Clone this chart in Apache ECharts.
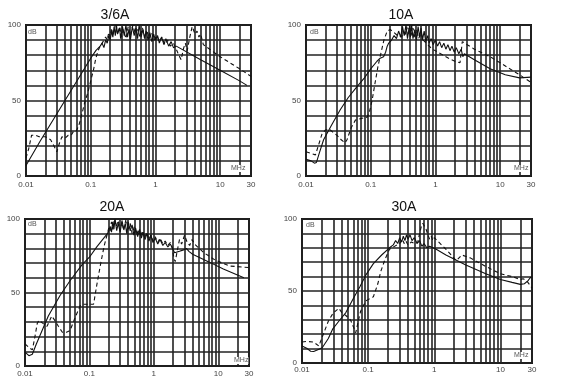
<!DOCTYPE html>
<html><head><meta charset="utf-8">
<script src="https://cdn.jsdelivr.net/npm/echarts@6/dist/echarts.min.js"></script>
<style>html,body{margin:0;padding:0;background:#fff}#c{width:580px;height:385px}</style>
</head><body><div id="c"></div>
<script>
// ---- data ----
const titles = ['3/6A', '10A', '20A', '30A'];
const yTickLabels = [0, 50, 100];
const xTickLabels = [0.01, 0.1, 1, 10, 30];

const solid1 = [[0.01,7],[0.0105,6],[0.0165,23],[0.04,50],[0.07,67],[0.1,78],[0.12,83],[0.14,86],[0.15,88],[0.16,85],[0.17,90],[0.18,88],[0.19,93],[0.2,90],[0.21,96],[0.22,92],[0.23,99],[0.24,93],[0.25,100],[0.26,94],[0.28,98],[0.29,91],[0.31,99],[0.33,93],[0.35,100],[0.37,92],[0.39,97],[0.41,90],[0.44,99],[0.47,93],[0.5,98],[0.53,91],[0.56,100],[0.6,92],[0.64,97],[0.68,91],[0.72,96],[0.77,90],[0.82,95],[0.88,89],[0.94,94],[1.0,90],[1.08,93],[1.15,88],[1.25,92],[1.35,87],[1.45,91],[1.6,86],[1.75,89],[1.9,85],[2.1,86],[5,77],[10,70],[20,63],[26,60]];
const dashed1 = [[0.01,12],[0.011,18],[0.0122,27],[0.0128,28],[0.014,27],[0.016,26],[0.02,26],[0.024,24],[0.027,20],[0.03,16],[0.033,22],[0.036,26],[0.04,25],[0.045,27],[0.05,27],[0.055,30],[0.06,30],[0.065,33],[0.068,36],[0.07,35],[0.075,43],[0.08,48],[0.09,55],[0.1,63],[0.11,70],[0.12,78],[0.13,83],[0.14,86],[0.15,88],[0.16,90],[0.17,92],[0.18,90],[0.19,95],[0.2,92],[0.21,98],[0.22,93],[0.24,100],[0.26,94],[0.28,99],[0.3,92],[0.32,97],[0.35,91],[0.38,99],[0.41,93],[0.45,100],[0.49,94],[0.53,97],[0.58,92],[0.63,98],[0.68,93],[0.74,96],[0.8,91],[0.87,95],[0.95,90],[1.05,93],[1.15,89],[1.25,92],[1.4,87],[1.55,90],[1.7,86],[1.9,88],[2.1,84],[2.3,80],[2.5,77],[2.7,84],[2.9,88],[3.1,83],[3.4,92],[3.7,99],[3.9,100],[4.1,94],[4.4,96],[4.7,92],[5,94],[5.5,87],[10,79],[20,71],[30,66]];

const solid2 = [[0.01,11],[0.012,10],[0.0135,8.5],[0.0145,9],[0.016,15],[0.0187,24],[0.025,34],[0.034,44],[0.045,52],[0.061,59],[0.08,65],[0.1,71],[0.125,76],[0.14,78],[0.158,79],[0.17,82],[0.18,86],[0.19,88],[0.21,90],[0.23,93],[0.25,91],[0.27,96],[0.29,92],[0.31,99],[0.33,93],[0.35,100],[0.37,91],[0.39,98],[0.41,92],[0.43,100],[0.45,91],[0.48,97],[0.51,90],[0.54,99],[0.57,92],[0.6,98],[0.63,90],[0.67,96],[0.71,89],[0.76,93],[0.8,88],[0.86,91],[0.92,87],[1.0,90],[1.08,86],[1.16,89],[1.25,85],[1.35,88],[1.45,84],[1.56,87],[1.68,83],[1.8,86],[1.95,82],[2.1,85],[2.3,81],[2.5,84],[2.65,79],[2.8,81],[4,77],[7,71],[12,67],[20,65],[30,65.5]];
const dashed2 = [[0.01,16],[0.012,15],[0.014,14],[0.0155,20],[0.0177,28],[0.02,30.5],[0.023,31],[0.026,29],[0.03,27],[0.035,24],[0.04,22],[0.043,24],[0.05,32],[0.058,37],[0.07,38],[0.088,39],[0.095,42],[0.105,50],[0.115,60],[0.13,73],[0.145,82],[0.16,90],[0.18,96],[0.2,97],[0.23,95],[0.26,93],[0.3,92],[0.32,96],[0.34,93],[0.36,99],[0.38,94],[0.4,100],[0.42,93],[0.45,98],[0.48,92],[0.51,97],[0.55,91],[0.6,95],[0.65,90],[0.72,88],[0.8,86],[0.9,84],[1.2,81],[1.6,78],[2.0,76],[2.4,75],[2.5,82],[2.6,89],[4,84],[7,79],[10,75],[20,67],[30,62]];

const solid3 = [[0.01,9.5],[0.0115,7],[0.012,6],[0.013,8],[0.015,15],[0.023,34],[0.035,48],[0.05,58],[0.077,69],[0.1,74],[0.13,81],[0.16,86],[0.19,90],[0.2,92],[0.21,95],[0.22,91],[0.23,98],[0.24,93],[0.25,100],[0.265,92],[0.28,97],[0.3,91],[0.32,99],[0.34,93],[0.36,97],[0.38,90],[0.4,98],[0.43,92],[0.46,96],[0.49,89],[0.52,94],[0.56,88],[0.6,93],[0.64,87],[0.68,91],[0.73,86],[0.78,90],[0.84,85],[0.9,89],[0.97,84],[1.05,87],[1.15,83],[1.25,86],[1.38,82],[1.5,84],[1.65,81],[1.8,83],[1.95,80],[2.1,77],[2.5,78],[2.9,79],[3.2,80],[3.5,78],[4,76],[7,71],[12,66],[25,60]];
const dashed3 = [[0.01,15],[0.012,12],[0.013,11],[0.014,18],[0.0155,29],[0.0165,31],[0.019,29],[0.022,27],[0.026,34],[0.029,31],[0.033,27],[0.038,23],[0.044,23],[0.05,24],[0.06,33],[0.072,41],[0.08,42],[0.1,42],[0.116,42],[0.13,55],[0.15,70],[0.17,82],[0.19,90],[0.2,94],[0.21,92],[0.22,98],[0.23,93],[0.245,100],[0.26,95],[0.28,99],[0.3,92],[0.32,98],[0.34,92],[0.37,100],[0.4,93],[0.43,97],[0.46,90],[0.5,95],[0.54,89],[0.58,93],[0.62,88],[0.67,92],[0.72,87],[0.78,91],[0.84,86],[0.9,89],[0.97,85],[1.05,88],[1.15,84],[1.25,87],[1.38,83],[1.5,85],[1.65,82],[1.8,84],[1.95,80],[2.05,73],[2.15,71],[2.3,78],[2.5,86],[2.7,83],[3.0,89],[3.3,84],[3.6,82],[3.9,86],[4.1,87],[4.5,82],[6,77],[9,72],[15,68],[30,67]];

const solid4 = [[0.01,11.8],[0.012,10],[0.0135,8.2],[0.015,8],[0.017,9],[0.0202,10.6],[0.025,17],[0.029,23.5],[0.036,29],[0.046,35],[0.06,45],[0.075,53],[0.092,61],[0.12,69],[0.16,75],[0.21,80],[0.24,82],[0.26,85],[0.28,83],[0.3,87],[0.32,84],[0.34,88],[0.36,85],[0.38,89],[0.4,86],[0.43,89],[0.46,85],[0.5,87],[0.55,83],[0.6,85],[0.65,81],[0.7,83],[0.77,80],[0.85,81],[1.07,79],[1.5,75],[3,68],[6,62],[10,58],[15,56],[20,54.6],[23,55],[26,57],[28,59],[30,60]];
const dashed4 = [[0.01,14.6],[0.012,15],[0.015,14.5],[0.018,11.8],[0.021,20],[0.025,29],[0.029,34],[0.032,36],[0.036,38],[0.04,35],[0.046,33],[0.054,30],[0.06,25],[0.065,21],[0.07,28],[0.077,36],[0.085,40],[0.095,43.5],[0.12,46],[0.14,55],[0.155,63.5],[0.18,72],[0.21,79],[0.25,81],[0.3,83],[0.33,86],[0.35,83],[0.37,85],[0.4,82],[0.45,84],[0.5,83],[0.56,83.5],[0.6,90],[0.63,94],[0.67,97],[0.71,98],[0.75,93],[0.8,89],[0.85,86],[0.9,88],[0.95,85],[1.0,87],[1.5,79],[2.15,71],[2.6,75],[3.5,73],[6,67],[10,62],[15,60],[20,58],[22,58.5],[25,57],[28,54],[30,52]];

const solids = [solid1, solid2, solid3, solid4];
const dasheds = [dashed1, dashed2, dashed3, dashed4];

// ---- layout ----
const grids = [
  {left: 26, top: 25, width: 225, height: 151},
  {left: 306, top: 25, width: 225, height: 151},
  {left: 25, top: 219, width: 224, height: 147},
  {left: 302, top: 219, width: 230, height: 144}
];
const labelMargin = [5, 5, 4, 3];
const titlePos = [[115, 8], [401, 8], [112, 200], [404, 200]];
const dbPos = [[33, 33], [315, 33], [33, 225], [311, 226]];
const mhzPos = [[239, 169], [522, 169], [242, 361], [522, 356]];

const minorGrid = [];
[0.01, 0.1, 1, 10].forEach(d => { for (let m = 2; m <= 9; m++) { const v = +(d * m).toPrecision(3); if (v < 30) minorGrid.push(v); } });

const GRIDCOL = '#222';
const GW = 1.6;
const FONT = 'Liberation Sans, Arial, sans-serif';
const option = {
  animation: false,
  backgroundColor: '#fff',
  title: titles.map((t, i) => ({text: t, left: titlePos[i][0], top: titlePos[i][1], textAlign: 'center', padding: 0,
    textStyle: {fontFamily: FONT, fontSize: 14, fontWeight: 'normal', color: '#111', lineHeight: 14}})),
  grid: grids.map(g => Object.assign({show: true, borderColor: '#1a1a1a', borderWidth: 2, backgroundColor: '#fff'}, g)),
  xAxis: grids.map((g, i) => ({
    type: 'log', logBase: 10, min: 0.01, max: 30, gridIndex: i,
    axisLine: {show: false}, axisTick: {show: false},
    splitLine: {show: true, lineStyle: {color: GRIDCOL, width: GW}},
    axisLabel: {fontSize: 8, color: '#444', margin: labelMargin[i], fontFamily: FONT,
      formatter: v => { const m = xTickLabels.find(t => Math.abs(t - v) / t < 1e-6); return m === undefined ? '' : String(m); }}
  })),
  yAxis: grids.map((g, i) => ({
    type: 'value', min: 0, max: 100, interval: 10, gridIndex: i,
    axisLine: {show: false}, axisTick: {show: false},
    splitLine: {show: true, lineStyle: {color: GRIDCOL, width: GW}},
    axisLabel: {fontSize: 8, color: '#444', margin: 5, fontFamily: FONT,
      formatter: v => yTickLabels.indexOf(v) >= 0 ? String(v) : ''}
  })),
  graphic: [],
  series: []
};
grids.forEach((g, i) => {
  option.series.push({
    type: 'line', xAxisIndex: i, yAxisIndex: i, data: [], z: 1, silent: true,
    markLine: {silent: true, symbol: ['none', 'none'], label: {show: false}, animation: false,
      lineStyle: {color: GRIDCOL, width: GW, type: 'solid'},
      data: minorGrid.map(v => ({xAxis: v}))}
  });
  option.series.push({type: 'line', xAxisIndex: i, yAxisIndex: i, data: solids[i], symbol: 'none', z: 5,
    lineStyle: {color: '#111', width: 1.1}});
  option.series.push({type: 'line', xAxisIndex: i, yAxisIndex: i, data: dasheds[i], symbol: 'none', z: 5,
    lineStyle: {color: '#111', width: 1.1, type: [4, 3]}});
  option.graphic.push({type: 'text', left: dbPos[i][0] - 5, top: dbPos[i][1] - 4, z: 10,
    style: {text: 'dB', fontSize: 7, fill: '#555', fontFamily: FONT}});
  option.graphic.push({type: 'text', left: mhzPos[i][0] - 8, top: mhzPos[i][1] - 4, z: 10,
    style: {text: 'MHz', fontSize: 7, fill: '#555', fontFamily: FONT, backgroundColor: '#fff'}});
});
const chart = echarts.init(document.getElementById('c'), null, {renderer: 'canvas'});
chart.setOption(option);
</script></body></html>
